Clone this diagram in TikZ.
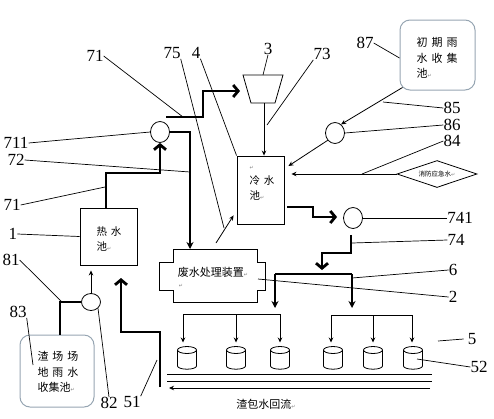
\documentclass[tikz,border=0pt]{standalone}
\usepackage{fontspec}
\setmainfont{Liberation Serif}
\newfontfamily\cjk{Noto Sans CJK SC}
\newfontfamily\djv{DejaVu Sans}
\usetikzlibrary{arrows.meta,shapes.geometric,calc}
\newcommand\rmk{{\djv\fontsize{5}{5}\selectfont\textcolor{gray}{↵}}}
\definecolor{rbc}{RGB}{150,165,178}
\begin{document}
\begin{tikzpicture}[x=1pt,y=-1pt,
  thinl/.style={line width=0.8pt},
  lead/.style={line width=0.7pt},
  medl/.style={line width=1.6pt},
  thickl/.style={line width=2.8pt},
  tarr/.style={thinl,-{Stealth[length=5pt,width=4.5pt]}},
  marr/.style={medl,-{Stealth[length=7pt,width=7pt]}},
  barr/.style={thickl,-{Straight Barb[length=5pt,width=12pt]}},
  box/.style={draw,line width=0.9pt,inner sep=0pt},
  rbox/.style={draw=rbc,line width=1pt,rounded corners=10pt,inner sep=0pt},
  num/.style={font=\fontsize{17}{17}\selectfont,inner sep=0pt},
  zh/.style={font=\cjk\fontsize{10.5}{15}\selectfont,inner sep=0pt,align=left},
  pump/.style={draw,ellipse,line width=0.8pt,minimum width=19pt,minimum height=21pt,inner sep=0pt},
]
\useasboundingbox (0,0) rectangle (494,418);

% ---- boxes ----
\node[box,minimum width=57pt,minimum height=57pt] (hot) at (108.5,236.5) {};
\node[zh] (hotT) at (109,239) {热\hspace{4pt}水\\池\rmk};
\node[box,minimum width=47pt,minimum height=68pt] (cold) at (260.5,190) {};
\node[zh] (coldT) at (262,183) {\rmk\\冷\hspace{4pt}水\\池\rmk};
\node[rbox,minimum width=75pt,minimum height=70pt] (rain87) at (437.5,55) {};
\node[zh,font=\cjk\fontsize{11}{15.5}\selectfont] (rain87T) at (437,58) {初\hspace{4pt}期\hspace{4pt}雨\\水\hspace{4pt}收\hspace{4pt}集\\池\rmk};
\node[rbox,minimum width=74pt,minimum height=72pt] (rain83) at (57,371) {};
\node[zh,font=\cjk\fontsize{11}{15.5}\selectfont] (rain83T) at (58,372) {渣\hspace{4pt}场\hspace{4pt}场\\地\hspace{4pt}雨\hspace{4pt}水\\收集池\rmk};
\node[draw,diamond,shape aspect=3,minimum width=80pt,minimum height=27pt,inner sep=0pt,line width=0.8pt,font=\cjk\fontsize{6.5}{7}\selectfont] (dia) at (437,174) {消防应急水\rmk};

% waste water treatment device
\draw[line width=0.9pt] (173,249) -- (257,249) -- (257,262) -- (265,262) -- (265,290) -- (257,290) -- (257,302) -- (173,302) -- (173,290) -- (159,290) -- (159,262) -- (173,262) -- cycle;
\coordinate (wtop) at (190,249);
\node[inner sep=0pt,font=\cjk\fontsize{11}{12}\selectfont] (wasteT) at (213,272) {废水处理装置\rmk};
\node[inner sep=0pt] (wasteM) at (181,286) {\rmk};

% funnel 3
\draw[thinl] (243,75) -- (283,75) -- (275,103) -- (251,103) -- cycle;
\coordinate (fun) at (264,103);
\coordinate (funT) at (263,75);

% pumps
\node[pump] (c711) at (160,132) {};
\node[pump] (c86) at (335,133) {};
\node[pump] (c741) at (353,218) {};
\node[pump,minimum height=17pt] (c82) at (91,302) {};

% cylinders
\foreach \n/\x in {1/187,2/236,3/280,4/333,5/373,6/413}{
  \coordinate (cy\n) at (\x,346.5);
  \draw[thinl] (\x-9.5,350) -- (\x-9.5,366) arc (180:0:9.5 and 3.2) -- (\x+9.5,350);
  \draw[thinl] (\x,350) ellipse (9.5 and 3.5);
}

% ---- connectors ----
\draw[barr] (hot.north -| 106,0) |- (c711.south |- 0,173) -- (c711.south);
\coordinate (t71s) at (166,117);
\coordinate (t71e) at (240,91);
\draw[barr] (t71s) -- (203,117) -- (203,91) -- (t71e);
\draw[marr] (c711.east) -| (wtop);
\draw[tarr] (fun) -- (cold.north -| fun);
\draw[tarr] ([shift={(3,-3)}]rain87.south west) -- (c86.55);
\draw[tarr] (c86.225) -- ($(cold.east |- 0,166)+(4,0)$);
\draw[tarr] (dia.west) -- ($(cold.east |- dia.west)+(7,0)$);
\coordinate (w75) at (216,243);
\draw[tarr] (w75) -- ($(cold.south west)+(-3,-9)$);
\draw[barr] ($(cold.east |- 0,207)+(3,0)$) -- (313,207) |- ($(c741.west)+(-6,-1)$);
\coordinate (barL) at (275,274);
\coordinate (barR) at (352,274);
\coordinate (barM) at (322,274);
\draw[barr] ($(c741.south)+(-2,6)$) -- ++(0,18) -| ($(barM)+(0,-4)$);
\draw[medl] (barL) -- (barR);
\draw[marr] (barL) -- ++(0,34);
\draw[marr] (barR) -- ++(0,34);
\draw[thinl] (183,314) -- (280,314);
\foreach \c/\x in {cy1/183,cy2/236,cy3/280}
  \draw[tarr,shorten >=4pt] (\x,314) -- (\c -| \x,0);
\draw[thinl] (331,315) -- (412,315);
\foreach \c/\x in {cy4/331,cy5/373,cy6/412}
  \draw[tarr,shorten >=4pt] (\x,315) -- (\c -| \x,0);
\coordinate (r1a) at (167,374); \coordinate (r1b) at (432,374);
\coordinate (r2a) at (167,381); \coordinate (r2b) at (432,381);
\coordinate (retS) at (430,388); \coordinate (retE) at (169,388);
\draw[thinl] (r1a) -- (r1b);
\draw[thinl] (r2a) -- (r2b);
\draw[tarr] (retS) -- (retE);
\node[inner sep=0pt,font=\cjk\fontsize{11}{12}\selectfont] (ret) at (266,404) {渣包水回流\rmk};
\coordinate (s51) at (160,387);
\coordinate (e51) at (121,278);
\draw[barr] (s51) -- (160,332) -| (e51);
\draw[tarr] (c82.north) -- ($(hot.south -| c82.north)+(0,5)$);
\draw[medl] (c82.west) -| (rain83.north -| 60,0);

% ---- labels & leaders ----
\node[num] (n71a) at (95,56) {71};
\node[num] (n75) at (172,53) {75};
\node[num] (n4) at (196,53) {4};
\node[num] (n3) at (268,49) {3};
\node[num] (n73) at (322,54) {73};
\node[num] (n87) at (365,43) {87};
\node[num] (n85) at (452,108) {85};
\node[num] (n86) at (452,125) {86};
\node[num] (n84) at (452,141) {84};
\node[num] (n741) at (460,218) {741};
\node[num] (n74) at (456,240) {74};
\node[num] (n6) at (453,270) {6};
\node[num] (n2) at (453,297) {2};
\node[num] (n5) at (472,339) {5};
\node[num] (n52) at (479,367) {52};
\node[num] (n711) at (16,143) {711};
\node[num] (n72) at (16,160) {72};
\node[num] (n71b) at (12,205) {71};
\node[num] (n1) at (13,234) {1};
\node[num] (n81) at (11,260) {81};
\node[num] (n83) at (18,312) {83};
\node[num] (n82) at (109,403) {82};
\node[num] (n51) at (132,402) {51};

\coordinate (p71a) at (183,117);
\coordinate (p75) at (224,228);
\coordinate (p85) at (383,102);
\coordinate (p84) at (362,174);
\coordinate (p74) at (352,243);
\coordinate (p6) at (352,278);
\coordinate (p2) at (258,279);
\coordinate (p5) at (438,341);
\coordinate (p52) at (417,359);
\coordinate (p72) at (190,172);
\coordinate (p71b) at (105,187);
\coordinate (p81) at (62,302);
\coordinate (p83) at (33,365);
\coordinate (p51) at (157,360);
\coordinate (p73) at (267,125);

\draw[lead] (n71a.east) -- (p71a);
\draw[lead] (n75.south east) -- (p75);
\draw[lead] (n4.south east) -- (cold.north west);
\draw[lead] (n3.south) -- (funT);
\draw[lead] (n73.south west) -- (p73);
\draw[lead] (n87.east) -- (rain87.west |- 0,58);
\draw[lead] (n85.west) -- (p85);
\draw[lead] (n86.west) -- (c86.east);
\draw[lead] (n84.west) -- (p84);
\draw[lead] (n741.west) -- (c741.east);
\draw[lead] (n74.west) -- (p74);
\draw[lead] (n6.west) -- (p6);
\draw[lead] (n2.west) -- (p2);
\draw[lead] ($(n5.west)+(-4,0)$) -- (p5);
\draw[lead] (n52.west) -- (p52);
\draw[lead] (n711.east) -- (c711.west);
\draw[lead] (n72.east) -- (p72);
\draw[lead] (n71b.east) -- (p71b);
\draw[lead] (n1.east) -- (hot.west);
\draw[lead] (n81.east) -- (p81);
\draw[lead] (n83.south east) -- (p83);
\draw[lead] (n82.north) -- (c82.south east);
\draw[lead] (n51.north east) -- (p51);
\end{tikzpicture}
\end{document}
